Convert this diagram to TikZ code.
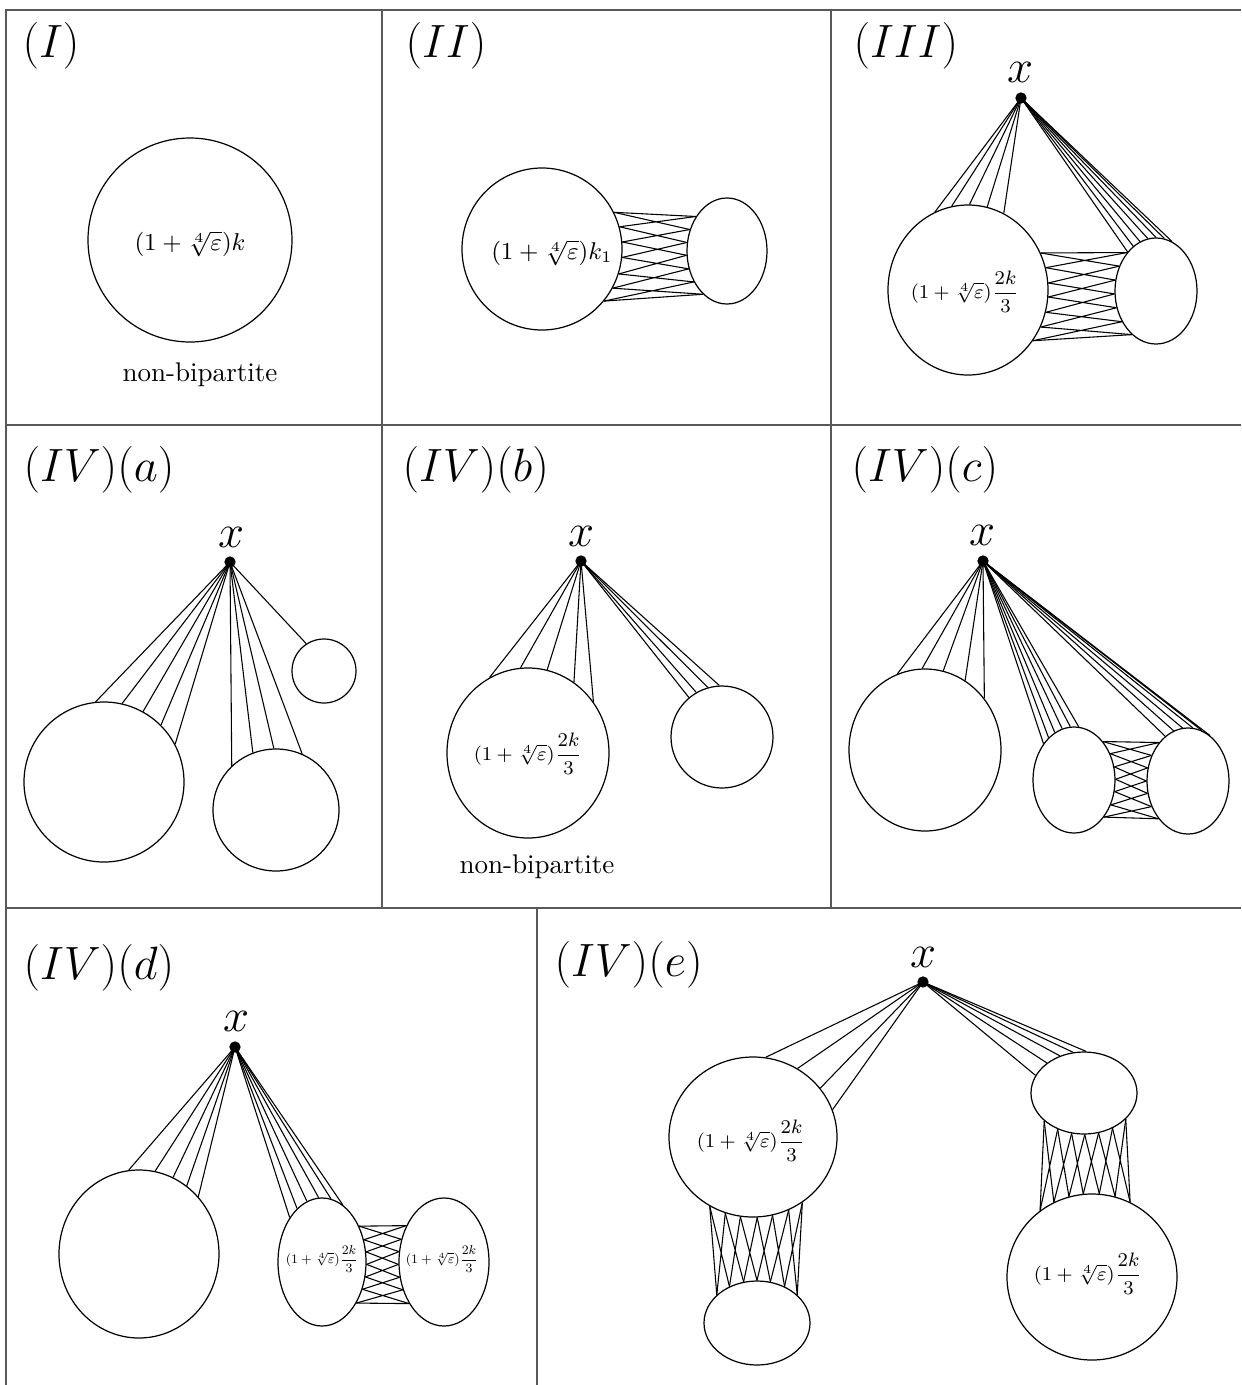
\documentclass[tikz,border=0pt]{standalone}
\usepackage{amsmath}
\usepackage{graphicx}
\usetikzlibrary{shapes.geometric}
\tikzset{
  frame/.style={draw=black!65, line width=0.5pt},
  blob/.style={draw, ellipse, inner sep=0pt, line width=0.45pt},
  dotnode/.style={circle, fill, inner sep=0pt, minimum size=4.2pt},
  ttl/.style={anchor=west, inner sep=0pt, font=\LARGE},
  xlbl/.style={inner sep=0pt, font=\LARGE},
  lbl/.style={inner sep=0pt, font=\small},
  flbl/.style={inner sep=0pt, font=\footnotesize},
  slbl/.style={inner sep=0pt, font=\scriptsize},
  edge/.style={line width=0.4pt}
}
\newcommand{\fraclabel}{\scalebox{0.9}{$(1+\sqrt[4]{\varepsilon})\dfrac{2k}{3}$}}
\newcommand{\smallfraclabel}{\scalebox{0.6}{$(1+\sqrt[4]{\varepsilon})\dfrac{2k}{3}$}}
\newcommand{\blobnode}[5]{\node[blob, minimum width={#4*0.74pt}, minimum height={#5*0.74pt}] (#1) at (#2,#3) {};}
\newcommand{\fanlines}[3]{\foreach \t in {#3} {\draw[edge] (#1.center) -- (#2.\t);}}
% #1 n, #2 A, #3 a-first, #4 a-last, #5 B, #6 b-first, #7 b-last
\newcommand{\zigzagedges}[7]{%
  \pgfmathsetmacro\zzda{(#4-(#3))/(#1-1)}%
  \pgfmathsetmacro\zzdb{(#7-(#6))/(#1-1)}%
  \draw[edge] (#2.#3) -- (#5.#6);
  \draw[edge] (#2.#4) -- (#5.#7);
  \pgfmathtruncatemacro\zzm{#1-2}%
  \foreach \i in {0,...,\zzm}{%
    \pgfmathtruncatemacro\zzA{round(#3+\i*\zzda)}%
    \pgfmathtruncatemacro\zzB{round(#3+(\i+1)*\zzda)}%
    \pgfmathtruncatemacro\zzC{round(#6+\i*\zzdb)}%
    \pgfmathtruncatemacro\zzD{round(#6+(\i+1)*\zzdb)}%
    \draw[edge] (#2.\zzA) -- (#5.\zzD) (#2.\zzB) -- (#5.\zzC);
  }%
}
\begin{document}
\begin{tikzpicture}[x=0.37pt,y=-0.37pt]
\useasboundingbox (0,0) rectangle (1241,1385);
% frame
\draw[frame] (6,1385) -- (6,10) -- (1241,10);
\draw[frame] (6,425) -- (1241,425);
\draw[frame] (6,908) -- (1241,908);
\draw[frame] (382,10) -- (382,908);
\draw[frame] (831,10) -- (831,908);
\draw[frame] (537,908) -- (537,1385);
% titles
\node[ttl] (t1) at (22,46) {$(I)$};
\node[ttl] (t2) at (405,46) {$(II)$};
\node[ttl] (t3) at (853,46) {$(III)$};
\node[ttl] (t4) at (23,470) {$(IV)(a)$};
\node[ttl] (t5) at (402,470) {$(IV)(b)$};
\node[ttl] (t6) at (851,470) {$(IV)(c)$};
\node[ttl] (t7) at (23,968) {$(IV)(d)$};
\node[ttl] (t8) at (554,965) {$(IV)(e)$};

% Panel I
\blobnode{Ia}{190}{240}{102}{102}
\node[lbl] (Il) at (190,244) {$(1+\sqrt[4]{\varepsilon})k$};
\node[inner sep=0pt] (Inb) at (200,375) {non-bipartite};

% Panel II
\blobnode{IIa}{542}{249}{80}{81}
\blobnode{IIb}{727}{251}{40}{53}
\node[lbl] (IIl) at (552,253) {$(1+\sqrt[4]{\varepsilon})k_1$};
\zigzagedges{7}{IIa}{27}{-40}{IIb}{132}{241}

% Panel III
\blobnode{IIIa}{968}{290}{80}{85}
\blobnode{IIIb}{1156}{291}{41}{53}
\node[dotnode] (x3) at (1021,98) {};
\node[xlbl] (x3l) at (1020,72) {$x$};
\node[flbl] (IIIl) at (965,292) {\fraclabel};
\fanlines{x3}{IIIa}{113,101,89,77,65}
\fanlines{x3}{IIIb}{126,117,108,99,90,81,72}
\zigzagedges{7}{IIIa}{27}{-38}{IIIb}{127}{241}

% Panel IV(a)
\blobnode{IVa1}{104}{782}{80}{80}
\blobnode{IVa2}{276}{810}{63}{61}
\blobnode{IVa3}{324}{671}{32}{32}
\node[dotnode] (xa) at (230,562) {};
\node[xlbl] (xal) at (231,537) {$x$};
\fanlines{xa}{IVa1}{96,77,61,45,28}
\fanlines{xa}{IVa2}{135,112,92,65}
\fanlines{xa}{IVa3}{123}

% Panel IV(b)
\blobnode{IVb1}{528}{753}{81}{85}
\blobnode{IVb2}{722}{737}{51}{51}
\node[dotnode] (xb) at (581,561) {};
\node[xlbl] (xbl) at (581,536) {$x$};
\node[flbl] (IVbl) at (528,754) {\fraclabel};
\node[inner sep=0pt] (IVbnb) at (537,867) {non-bipartite};
\fanlines{xb}{IVb1}{117,95,77,57,38}
\fanlines{xb}{IVb2}{130,120,106,93}

% Panel IV(c)
\blobnode{IVc1}{925}{750}{76}{81}
\blobnode{IVc2}{1074}{780}{41}{53}
\blobnode{IVc3}{1188}{781}{41}{53}
\node[dotnode] (xc) at (983,561) {};
\node[xlbl] (xcl) at (982,535) {$x$};
\fanlines{xc}{IVc1}{110,92,77,60,41}
\fanlines{xc}{IVc2}{130,121,112,103,94,85}
\fanlines{xc}{IVc3}{117,106,96,85,75,64}
\zigzagedges{7}{IVc2}{53}{-51}{IVc3}{127}{232}

% Panel IV(d)
\blobnode{IVd1}{139}{1254}{80}{84}
\blobnode{IVd2}{322}{1262}{44}{64}
\blobnode{IVd3}{444}{1262}{45}{64}
\node[dotnode] (xd) at (235,1047) {};
\node[xlbl] (xdl) at (236,1021) {$x$};
\node[flbl] (IVdl2) at (322,1259) {\smallfraclabel};
\node[flbl] (IVdl3) at (442,1259) {\smallfraclabel};
\fanlines{xd}{IVd1}{97,79,66,55,44}
\fanlines{xd}{IVd2}{126,115,104,93,82,70}
\zigzagedges{7}{IVd2}{44}{-50}{IVd3}{136}{230}

% Panel IV(e)
\blobnode{IVe1}{753}{1137}{84}{80}
\blobnode{IVe2}{757}{1323}{53}{42}
\blobnode{IVe3}{1084}{1093}{53}{41}
\blobnode{IVe4}{1092}{1277}{85}{83}
\node[dotnode] (xe) at (923,982) {};
\node[xlbl] (xel) at (923,957) {$x$};
\node[flbl] (IVel1) at (751,1141) {\fraclabel};
\node[flbl] (IVel4) at (1088,1274) {\fraclabel};
\fanlines{xe}{IVe1}{81,57,36,19}
\fanlines{xe}{IVe3}{160,141,123,105,87}
\zigzagedges{7}{IVe1}{238}{307}{IVe2}{145}{35}
\zigzagedges{7}{IVe3}{215}{328}{IVe4}{128}{63}
\end{tikzpicture}
\end{document}
